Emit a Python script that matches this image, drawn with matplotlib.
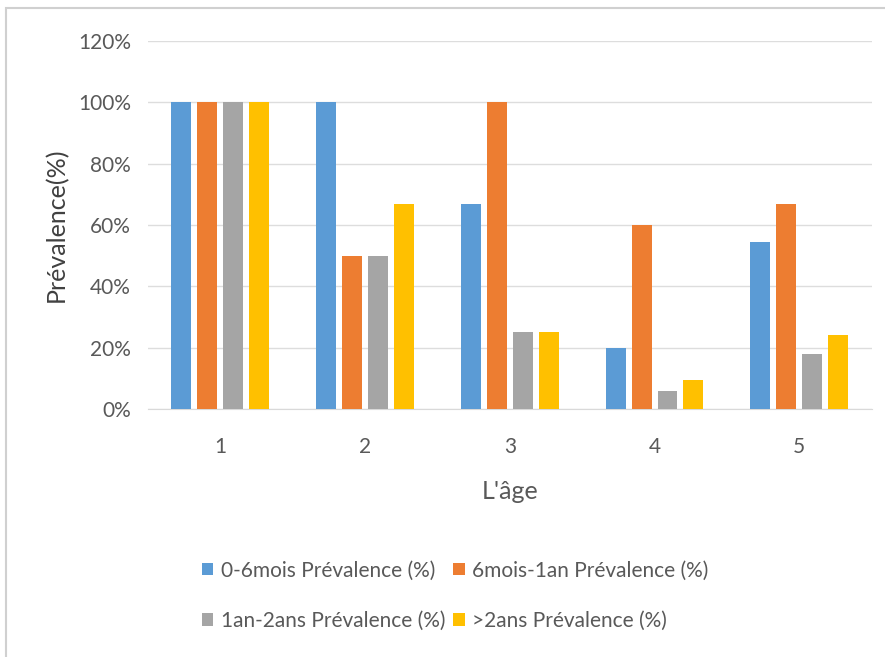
import matplotlib
matplotlib.use("Agg")
import matplotlib.pyplot as plt
import numpy as np
from matplotlib.patches import Rectangle
from matplotlib.ticker import PercentFormatter

plt.rcParams['font.family'] = ['Lato', 'DejaVu Sans']

categories = ["1", "2", "3", "4", "5"]
series_names = [
    "0-6mois Prévalence (%)",
    "6mois-1an Prévalence (%)",
    "1an-2ans Prévalence (%)",
    ">2ans Prévalence (%)",
]
prev_0_6mois = [100, 100, 66.7, 20, 54.5]
prev_6mois_1an = [100, 50, 100, 60, 66.7]
prev_1an_2ans = [100, 50, 25, 6, 18]
prev_sup_2ans = [100, 66.7, 25, 9.5, 24]
y_ticks = [0, 20, 40, 60, 80, 100, 120]

colors = ["#5B9BD5", "#ED7D31", "#A5A5A5", "#FFC000"]
all_series = [prev_0_6mois, prev_6mois_1an, prev_1an_2ans, prev_sup_2ans]

fig = plt.figure(figsize=(8.85, 6.57), dpi=100)
ax = fig.add_axes([0.167, 0.3775, 0.818, 0.56])

x = np.arange(len(categories))
width = 0.138
step = 0.179
handles = []
for i, (vals, col, name) in enumerate(zip(all_series, colors, series_names)):
    offs = (i - 1.5) * step
    h = ax.bar(x + offs, vals, width=width, color=col, label=name, zorder=3)
    handles.append(h)

ax.set_xlim(-0.5, len(categories) - 0.5)
ax.set_ylim(0, 120)
ax.set_yticks(y_ticks)
ax.yaxis.set_major_formatter(PercentFormatter(decimals=0))
ax.set_xticks(x)
ax.set_xticklabels(categories)
ax.grid(axis='y', color='#DDDDDD', linewidth=1, zorder=0)
for s in ['top', 'right', 'left']:
    ax.spines[s].set_visible(False)
ax.spines['bottom'].set_color('#D9D9D9')
ax.tick_params(axis='both', length=0, colors='#595959', labelsize=15)
ax.tick_params(axis='x', pad=20)
ax.tick_params(axis='y', pad=12)

ax.set_xlabel("L'âge", fontsize=18, color='#595959', va='center')
ax.xaxis.set_label_coords(0.5, -0.2255)
ax.set_ylabel("Prévalence(%)", fontsize=18, color='#404040', va='center')
ax.yaxis.set_label_coords(-0.126, 0.5)

# legend filled row by row: two entries per row
order = [0, 2, 1, 3]
fig.legend([handles[k] for k in order], [series_names[k] for k in order],
           ncol=2, loc='upper left',
           bbox_to_anchor=(0.228, 0.147), bbox_transform=fig.transFigure,
           frameon=False, fontsize=15, labelcolor='#595959',
           handlelength=0.55, handleheight=0.55, handletextpad=0.35,
           columnspacing=0.4, labelspacing=1.45, borderaxespad=0, borderpad=0)

# chart-area frame
fig.patches.append(Rectangle((0.007, -0.05), 1.1, 1.038, transform=fig.transFigure,
                             fill=False, edgecolor='#D0D0D0', linewidth=1.5))

fig.savefig("out.png", dpi=100)
